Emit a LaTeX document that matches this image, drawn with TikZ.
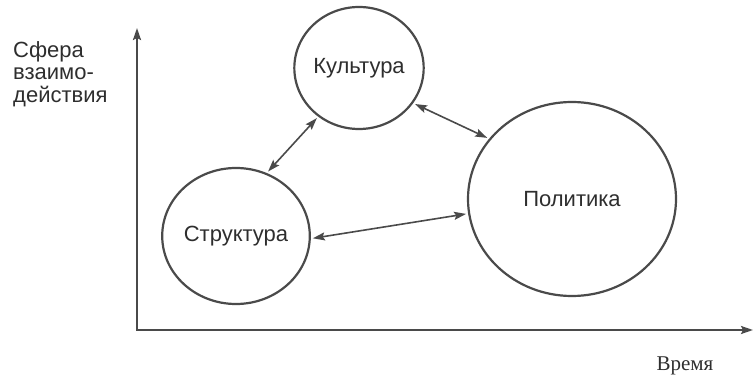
\documentclass[tikz,border=0pt]{standalone}
\usepackage{fontspec}
\setmainfont{Liberation Serif}
\setsansfont{Liberation Sans}
\usepackage{tikz}
\usetikzlibrary{positioning, shapes, arrows.meta}
\definecolor{inkgray}{HTML}{4A4A4A}
\definecolor{textgray}{HTML}{2E2E2E}
\tikzset{
    %Define style for spheres
    sphere/.style={
           ellipse,
           draw=inkgray, line width=2.2pt,
           inner sep=0pt,
           text=textgray,
           font=\sffamily\fontsize{22}{26}\selectfont},
 %
    % Define arrow style
    link/.style={
           {Stealth[length=12pt,width=8pt,inset=2pt]}-{Stealth[length=12pt,width=8pt,inset=2pt]},
           color=inkgray, line width=1.6pt,
           shorten <=2pt,
           shorten >=2pt,},
 %
    axis/.style={
           {Stealth[length=12pt,width=8pt,inset=2pt]}-{Stealth[length=12pt,width=8pt,inset=2pt]},
           draw=inkgray, line width=2pt}
}

\begin{document}
\begin{tikzpicture}[x=1pt, y=1pt]
  \useasboundingbox (0,0) rectangle (755,375);
  % axes
  \coordinate (origin) at (137,45);
  \coordinate (ytop) at (137,347);
  \coordinate (xend) at (753,45);
  \draw[axis] (ytop) -- (origin) -- (xend);
  \node[anchor=north west, align=left, inner sep=0pt, text=textgray,
        font=\sffamily\fontsize{22}{22.5}\selectfont] (sphlabel) at (13,334) {Сфера\\взаимо-\\действия};
  \node[anchor=base, inner sep=0pt, text=textgray,
        font=\rmfamily\fontsize{21}{24}\selectfont] (timelabel) at (685,5) {Время};
  % spheres
  \node[sphere, minimum width=122pt, minimum height=122pt] (culture) at (359,307) {Культура};
  \node[sphere, minimum width=142pt, minimum height=136pt] (structure) at (236,139) {Структура};
  \node[sphere, minimum width=208pt, minimum height=194pt] (politics) at (572,176) {Политика};
  \path[link]
    (structure.64) edge (culture.230)
    (culture.-33) edge (politics.144)
    (structure.-2) edge (politics.188);
\end{tikzpicture}
\end{document}
